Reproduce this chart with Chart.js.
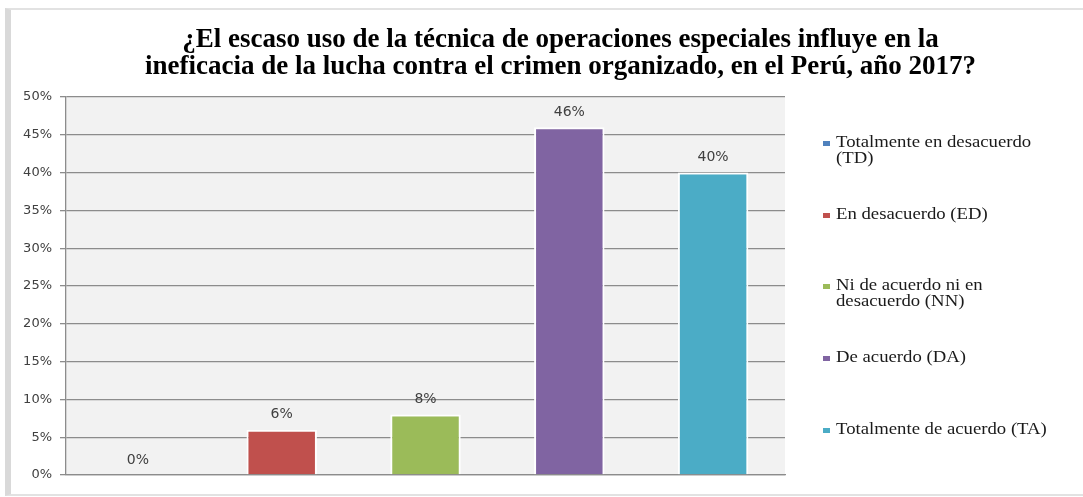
<!DOCTYPE html>
<html>
<head>
<meta charset="utf-8">
<script src="https://cdn.jsdelivr.net/npm/chart.js@4.4.0/dist/chart.umd.min.js"></script>
<style>
  html, body { margin: 0; padding: 0; background: #fff; }
  #wrap { position: relative; width: 1083px; height: 497px; overflow: hidden; }
  #frame { position: absolute; left: 5px; top: 8px; width: 1090px; height: 484px;
           border-left: 6px solid #d9d9d9; border-top: 2px solid #e2e2e2; border-bottom: 2px solid #e2e2e2; }
  #myChart { position: absolute; left: 0; top: 0; }
  #legend { position: absolute; left: 823px; top: 0; font-family: "Liberation Serif", serif; font-size: 16px; color: #1a1a1a; }
  .item { position: absolute; left: 0; white-space: nowrap; }
  .sw { position: absolute; left: 0; top: -2px; width: 7px; height: 5px; }
  .txt { position: absolute; left: 13px; top: -9px; line-height: 16px; transform: scaleX(1.17); transform-origin: left top; }
</style>
</head>
<body>
<div id="wrap">
  <div id="frame"></div>
  <canvas id="myChart" width="1101" height="497"></canvas>
  <div id="legend"></div>
</div>
<script>
const categories = ['Totalmente en desacuerdo (TD)', 'En desacuerdo (ED)', 'Ni de acuerdo ni en desacuerdo (NN)', 'De acuerdo (DA)', 'Totalmente de acuerdo (TA)'];
const legendLines = [['Totalmente en desacuerdo', '(TD)'], ['En desacuerdo (ED)'], ['Ni de acuerdo ni en', 'desacuerdo (NN)'], ['De acuerdo (DA)'], ['Totalmente de acuerdo (TA)']];
const percents = [0, 6, 8, 46, 40];
const colors = ['#4f81bd', '#c0504d', '#9bbb59', '#8064a2', '#4bacc6'];
const yTicks = [0, 5, 10, 15, 20, 25, 30, 35, 40, 45, 50];
const titleLines = ['¿El escaso uso de la técnica de operaciones especiales influye en la', 'ineficacia de la lucha contra el crimen organizado, en el Perú, año 2017?'];

// legend in html, one row every ~71.7px
const legend = document.getElementById('legend');
legendLines.forEach((lines, i) => {
    const item = document.createElement('div');
    item.className = 'item';
    item.style.top = (143 + i * 71.7) + 'px';
    item.innerHTML = '<div class="sw" style="background:' + colors[i] + '"></div><div class="txt">' + lines.join('<br>') + '</div>';
    legend.appendChild(item);
});

const plotBg = {
    id: 'plotBg',
    beforeDraw(chart) {
        const { ctx, chartArea: a } = chart;
        ctx.save();
        ctx.fillStyle = '#f2f2f2';
        ctx.fillRect(a.left, a.top, a.right - a.left, a.bottom - a.top);
        ctx.restore();
    }
};

const barLabels = {
    id: 'barLabels',
    afterDatasetsDraw(chart) {
        const ctx = chart.ctx;
        ctx.save();
        ctx.font = '14px "DejaVu Sans"';
        ctx.fillStyle = '#404040';
        ctx.textAlign = 'center';
        ctx.textBaseline = 'middle';
        chart.getDatasetMeta(0).data.forEach((bar, i) => {
            ctx.fillText(percents[i] + '%', bar.x, bar.y - 15);
        });
        ctx.restore();
    }
};

const ctx = document.getElementById('myChart');

new Chart(ctx, {
    type: 'bar',
    data: {
        labels: categories,
        datasets: [{
            label: 'Porcentaje',
            data: percents,
            backgroundColor: colors,
            borderColor: '#ffffff',
            borderWidth: 2,
            borderSkipped: 'start',
            categoryPercentage: 1,
            barPercentage: 0.49
        }]
    },
    options: {
        responsive: false,
        animation: false,
        layout: { padding: { left: 20, right: 0, top: 0, bottom: 22 } },
        plugins: {
            legend: { display: false },
            tooltip: { enabled: false },
            title: {
                display: true,
                text: titleLines,
                color: '#000',
                font: { family: '"Liberation Serif", serif', size: 27, weight: 'bold', lineHeight: 1.0 },
                padding: { top: 26.6, bottom: 16.4 }
            }
        },
        scales: {
            x: {
                ticks: { display: false },
                grid: { display: false, drawTicks: false },
                border: { display: true, color: '#8c8c8c', width: 1.3 },
                afterFit(scale) { scale.height = 0; }
            },
            y: {
                min: 0,
                max: 50,
                afterBuildTicks(scale) { scale.ticks = yTicks.map(v => ({ value: v })); },
                ticks: {
                    padding: 8,
                    color: '#404040',
                    font: { family: '"DejaVu Sans"', size: 13 },
                    callback: v => v + '%'
                },
                grid: { color: '#8c8c8c', lineWidth: 1.3, tickLength: 6 },
                border: { color: '#8c8c8c', width: 1.3 },
                afterFit(scale) { scale.width = 46; }
            },
            // empty axis that only keeps room for the html legend
            side: {
                position: 'right',
                display: true,
                ticks: { display: false },
                grid: { display: false, drawTicks: false },
                border: { display: false },
                afterFit(scale) { scale.width = 316; }
            }
        }
    },
    plugins: [plotBg, barLabels]
});
</script>
</body>
</html>
